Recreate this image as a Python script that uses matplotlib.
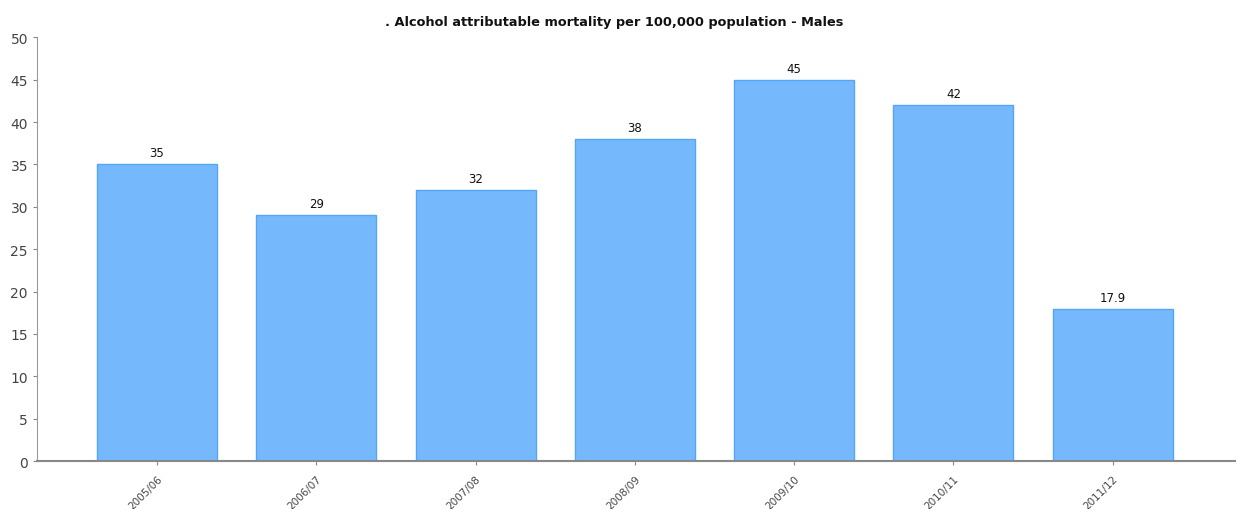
import matplotlib
matplotlib.use("Agg")
import matplotlib.pyplot as plt

years = ["2005/06", "2006/07", "2007/08", "2008/09", "2009/10", "2010/11", "2011/12"]
rates = [35, 29, 32, 38, 45, 42, 17.9]
rate_labels = ["35", "29", "32", "38", "45", "42", "17.9"]

fig = plt.figure(figsize=(12.41, 5.10), dpi=100)
ax = fig.add_axes([0.0298, 0.094, 0.9652, 0.831])

x = range(len(years))
bars = ax.bar(x, rates, width=0.753, color="#75b9fc", edgecolor="#52a6f7", linewidth=1)

for b, lab in zip(bars, rate_labels):
    ax.text(b.get_x() + b.get_width() / 2, b.get_height() + 0.6, lab,
            ha="center", va="bottom", fontsize=8.5, color="#111111")

ax.set_xlim(-0.753, 6.766)
ax.set_ylim(0, 50)
ax.set_yticks(range(0, 51, 5))
ax.set_xticks(list(x))
ax.set_xticklabels(years, rotation=45, ha="right", rotation_mode="anchor",
                   fontsize=7.5, color="#444444")
ax.tick_params(axis="y", labelsize=10, colors="#444444", length=3, color="#888888")
ax.tick_params(axis="x", length=3, color="#888888", pad=6)

for side in ("top", "right"):
    ax.spines[side].set_visible(False)
ax.spines["left"].set_color("#999999")
ax.spines["bottom"].set_color("#888888")
ax.spines["bottom"].set_linewidth(1.5)

fig.text(0.495, 0.955, ". Alcohol attributable mortality per 100,000 population - Males",
         ha="center", va="center", fontsize=9.3, fontweight="bold", color="#111111")

fig.savefig("out.png", dpi=100)
